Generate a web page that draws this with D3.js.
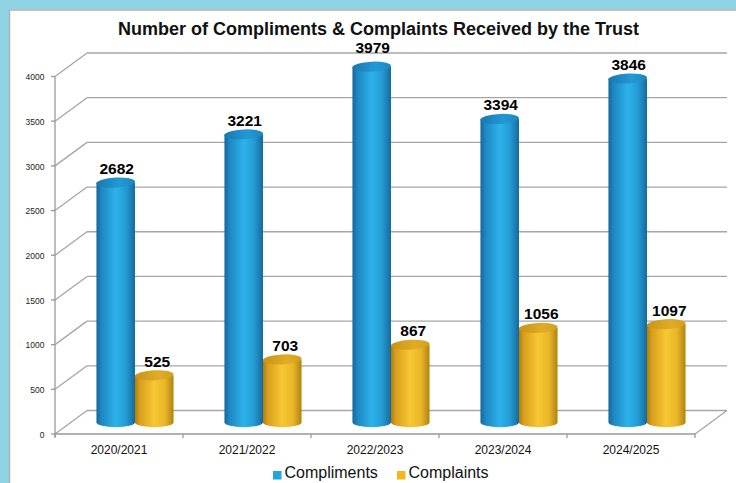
<!DOCTYPE html>
<html><head><meta charset="utf-8">
<script src="https://cdn.jsdelivr.net/npm/d3@7"></script>
<style>html,body{margin:0;padding:0;background:#fff;}svg{display:block;}</style>
</head><body>
<script>
const categories = ["2020/2021","2021/2022","2022/2023","2023/2024","2024/2025"];
const seriesNames = ["Compliments","Complaints"];
const compliments = [2682,3221,3979,3394,3846];
const complaints = [525,703,867,1056,1097];
const yTicks = [0,500,1000,1500,2000,2500,3000,3500,4000];
const title = "Number of Compliments & Complaints Received by the Trust";

const W = 736, H = 483;
const svg = d3.select("body").append("svg").attr("width", W).attr("height", H);
const defs = svg.append("defs");
const font = "'Liberation Sans', Arial, Helvetica, sans-serif";

// background frame
svg.append("rect").attr("x",0).attr("y",0).attr("width",W).attr("height",H).attr("fill","#8ed4e4");
svg.append("rect").attr("x",9).attr("y",9.5).attr("width",W-9).attr("height",H-9.5).attr("fill","#fff");
svg.append("line").attr("x1",9).attr("x2",W).attr("y1",10).attr("y2",10).attr("stroke","#b0b0b0").attr("stroke-width",1.5);
svg.append("line").attr("x1",9.5).attr("x2",9.5).attr("y1",10).attr("y2",H).attr("stroke","#b0b0b0").attr("stroke-width",1.5);

// scales
const x0 = 55, x1 = 695;
const depth = {dx: 32, dy: -23.5};
const x = d3.scaleBand().domain(categories).range([x0, x1]).paddingInner(0).paddingOuter(0);
const xs = d3.scaleBand().domain(seriesNames).range([0, x.bandwidth()]).paddingInner(0).paddingOuter(0.66);
const y = d3.scaleLinear().domain([0, 4000]).range([434, 76.5]);

const grid = svg.append("g").attr("stroke","#a6a6a6").attr("stroke-width",1.3).attr("fill","none");
// back wall gridlines + left wall diagonals
yTicks.forEach(t => {
  const yf = y(t), yb = y(t) + depth.dy;
  grid.append("line").attr("x1", x0 + depth.dx).attr("x2", x1 + depth.dx).attr("y1", yb).attr("y2", yb);
  grid.append("line").attr("x1", x0).attr("x2", x0 + depth.dx).attr("y1", yf).attr("y2", yb);
});
// floor
grid.append("line").attr("x1", x1).attr("x2", x1 + depth.dx).attr("y1", y(0)).attr("y2", y(0) + depth.dy);
grid.append("line").attr("x1", x0).attr("x2", x1).attr("y1", y(0)).attr("y2", y(0)).attr("stroke","#999");
// front y axis
grid.append("line").attr("x1", x0).attr("x2", x0).attr("y1", y(4000)).attr("y2", y(0)+3).attr("stroke","#999");
yTicks.forEach(t => {
  grid.append("line").attr("x1", x0-4).attr("x2", x0).attr("y1", y(t)).attr("y2", y(t)).attr("stroke","#999");
});
// category boundary ticks
d3.range(categories.length + 1).forEach(i => {
  const xx = x0 + i * x.step();
  grid.append("line").attr("x1", xx).attr("x2", xx).attr("y1", y(0)).attr("y2", y(0)+4).attr("stroke","#999");
});

// y tick labels
svg.append("g").selectAll("text").data(yTicks).join("text")
  .attr("x", 44.5).attr("y", d => y(d) + 1.5).attr("text-anchor","end").attr("dominant-baseline","middle")
  .attr("font-family", font).attr("font-size", 8.5).attr("fill","#222").text(d => d);

// category labels
svg.append("g").selectAll("text").data(categories).join("text")
  .attr("x", d => x(d) + x.bandwidth()/2).attr("y", 454).attr("text-anchor","middle")
  .attr("font-family", font).attr("font-size", 12).attr("fill","#111").text(d => d);

// gradients
function grad(id, stops) {
  const g = defs.append("linearGradient").attr("id", id).attr("x1",0).attr("x2",1).attr("y1",0).attr("y2",0);
  stops.forEach(s => g.append("stop").attr("offset", s[0]).attr("stop-color", s[1]));
}
grad("bBody", [[0,"#15679a"],[0.12,"#1d86c0"],[0.5,"#2cb3ea"],[0.78,"#2399d2"],[1,"#17699a"]]);
grad("bTop",  [[0,"#1a78b0"],[0.6,"#2199d4"],[1,"#1c86c0"]]);
grad("gBody", [[0,"#b17c0b"],[0.12,"#d89e1c"],[0.5,"#f7c833"],[0.78,"#e9b526"],[1,"#b08310"]]);
grad("gTop",  [[0,"#c99316"],[0.6,"#e0ac26"],[1,"#d59f1e"]]);

const series = [
  {name: "Compliments", values: compliments, body: "url(#bBody)", top: "url(#bTop)", legend: "#22a6df", lx: 1},
  {name: "Complaints", values: complaints, body: "url(#gBody)", top: "url(#gTop)", legend: "#f3b61d", lx: 3}
];

const rx = xs.bandwidth()/2, ry = 5;
const bars = svg.append("g");
const labels = svg.append("g");
categories.forEach((c, i) => {
  series.forEach(s => {
    const v = s.values[i];
    const cx = x(c) + xs(s.name) + xs.bandwidth()/2 + depth.dx/2;
    const yt = y(v) + depth.dy/2;
    const yb = y(0) + depth.dy/2;
    bars.append("path")
      .attr("d", `M${cx-rx},${yt} L${cx-rx},${yb} A${rx},${ry} 0 0 0 ${cx+rx},${yb} L${cx+rx},${yt} Z`)
      .attr("fill", s.body);
    bars.append("ellipse").attr("cx", cx).attr("cy", yt).attr("rx", rx).attr("ry", ry)
      .attr("transform", `rotate(-3 ${cx} ${yt})`)
      .attr("fill", s.top);
    const lift = v > 3900 ? 5 : 0;
    labels.append("text").attr("x", cx + s.lx).attr("y", yt - ry - 3.5 - lift)
      .attr("text-anchor","middle").attr("font-family", font).attr("font-weight","bold")
      .attr("font-size", 15.5).attr("fill","#000").text(v);
  });
});

// title
svg.append("text").attr("x", 378.5).attr("y", 35).attr("text-anchor","middle")
  .attr("font-family", font).attr("font-weight","bold").attr("font-size", 18).attr("fill","#111").text(title);

// legend
const leg = svg.append("g");
const legendItems = [{s: series[0], x: 273}, {s: series[1], x: 397}];
legendItems.forEach(it => {
  leg.append("rect").attr("x", it.x).attr("y", 471).attr("width", 8.5).attr("height", 8.5).attr("fill", it.s.legend);
  leg.append("text").attr("x", it.x + 11.5).attr("y", 478).attr("font-family", font).attr("font-size", 16)
    .attr("fill","#111").text(it.s.name);
});
</script>
</body></html>
